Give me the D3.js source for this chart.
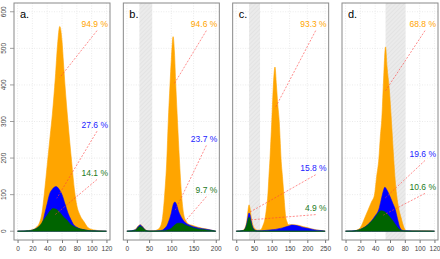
<!DOCTYPE html>
<html>
<head>
<meta charset="utf-8">
<script src="https://cdn.jsdelivr.net/npm/d3@7"></script>
<style>
  body { margin: 0; background: #fff; }
  svg { display: block; font-family: "Liberation Sans", Arial, sans-serif; }
</style>
</head>
<body>
<div id="chart"></div>
<script>
// panel names and percentage labels
var panelNames = ["a.", "b.", "c.", "d."];
var pctOrange = ["94.9 %", "94.6 %", "93.3 %", "68.8 %"];
var pctBlue = ["27.6 %", "23.7 %", "15.8 %", "19.6 %"];
var pctGreen = ["14.1 %", "9.7 %", "4.9 %", "10.6 %"];

// where each label sits (y in data units) and what its dashed line points at
var labelYOrange = [558, 558, 558, 558];
var labelYBlue = [283, 244, 164, 203];
var labelYGreen = [151, 104, 55, 113];
var targetOrange = [[57, 420], [107, 404], [109, 336], [53, 381]];
var targetBlue = [[53, 90], [109, 58], [38, 52], [53, 90]];
var targetGreen = [[50, 44], [128, 23], [38, 31], [51, 44]];

// shaded bands
var bands = [null, [28, 57], [36, 67], [54, 81]];

// axis ticks
var xTicks = [
    [0, 20, 40, 60, 80, 100, 120],
    [0, 50, 100, 150, 200],
    [0, 50, 100, 150, 200, 250],
    [0, 20, 40, 60, 80, 100, 120]
];
var yTicks = [0, 100, 200, 300, 400, 500, 600];

// panel a
var xA = [0, 10, 15, 20, 25, 30, 33, 36, 40, 44, 47, 51, 54, 57, 60, 62, 64, 68, 73, 77, 80, 84, 90, 95, 100, 105, 110, 115, 120];
var orangeA = [0, 0.5, 2, 4, 10, 25, 50, 100, 180, 260, 320, 420, 510, 560, 520, 460, 400, 300, 190, 110, 70, 45, 25, 10, 5, 3, 1, 0.5, 0];
var xA2 = [0, 15, 20, 25, 30, 33, 37, 40, 43, 47, 52, 56, 60, 64, 68, 72, 75, 80, 85, 90, 95, 100, 110, 120];
var blueA = [0, 1, 3, 7, 14, 20, 50, 75, 100, 115, 122, 115, 100, 75, 50, 32, 20, 11, 6, 4, 2, 1, 0.5, 0];
var xA3 = [0, 10, 15, 20, 25, 30, 35, 40, 44, 48, 52, 56, 60, 64, 67, 70, 75, 80, 85, 90, 95, 100, 107, 120];
var greenA = [0, 0.5, 1, 3, 7, 15, 30, 44, 56, 62, 60, 54, 44, 35, 30, 22, 14, 9, 6, 4, 2, 1, 0.5, 0];

// panel b
var xB = [0, 10, 20, 25, 30, 35, 40, 45, 50, 60, 70, 75, 80, 85, 90, 93, 97, 100, 104, 107, 110, 114, 118, 123, 128, 133, 138, 145, 150, 160, 170, 180, 190, 200];
var orangeB = [0, 0.5, 6, 14, 18, 14, 6, 2, 1, 1, 5, 12, 35, 100, 200, 297, 400, 470, 532, 490, 400, 297, 200, 100, 45, 28, 20, 17, 15, 11, 8, 6, 3, 0];
var xB2 = [0, 20, 25, 30, 35, 40, 45, 50, 60, 70, 80, 85, 90, 95, 100, 104, 108, 112, 116, 120, 125, 130, 135, 140, 150, 160, 170, 180, 190, 200];
var blueB = [0, 4, 12, 17, 12, 5, 1, 0.5, 0.5, 1, 3, 8, 15, 30, 50, 72, 80, 72, 55, 44, 33, 25, 20, 17, 12, 9, 7, 5, 3, 0];
var xB3 = [0, 20, 25, 30, 35, 40, 45, 50, 70, 80, 90, 100, 105, 110, 115, 120, 125, 130, 140, 150, 160, 170, 180, 190, 200];
var greenB = [0, 3, 10, 13, 10, 4, 1, 0.3, 0.5, 1, 3, 8, 14, 19, 22, 22, 21, 18, 13, 9, 6, 5, 3, 2, 0];

// panel c
var xC = [0, 10, 20, 25, 30, 33, 36, 39, 42, 46, 50, 55, 60, 65, 70, 75, 80, 82, 86, 89, 92, 95, 98, 100, 104, 109, 113, 117, 121, 124, 126, 130, 134, 137, 139, 143, 146, 150, 160, 170, 180, 190, 200, 210, 220, 230, 240, 250];
var orangeC = [0, 0.5, 3, 10, 30, 55, 72, 62, 40, 20, 10, 5, 3, 3, 5, 15, 30, 40, 70, 99, 150, 199, 260, 299, 390, 449, 400, 345, 299, 240, 199, 150, 99, 60, 40, 25, 18, 18, 18, 17, 15, 12, 10, 7, 5, 3, 2, 0];
var xC2 = [0, 20, 25, 30, 33, 36, 39, 42, 46, 50, 55, 60, 70, 80, 90, 100, 110, 120, 130, 140, 150, 156, 165, 175, 185, 195, 205, 215, 225, 235, 250];
var blueC = [0, 2, 7, 22, 38, 50, 44, 28, 12, 5, 2, 1, 1, 2, 3, 4, 5, 7, 9, 12, 15, 17, 16, 14, 11, 9, 7, 5, 3, 2, 0];
var xC3 = [0, 20, 25, 30, 33, 36, 39, 42, 46, 50, 55, 60, 80, 250];
var greenC = [0, 2, 6, 18, 30, 38, 34, 22, 9, 4, 1, 0.5, 0.3, 0];

// panel d
var xD = [0, 10, 15, 20, 26, 30, 35, 39, 42, 45, 47, 49, 51, 54, 56, 59, 62, 65, 67, 69, 72, 75, 78, 80, 82, 85, 90, 100, 110, 120];
var orangeD = [0, 0.5, 3, 10, 37, 56, 80, 99, 150, 199, 260, 310, 400, 504, 450, 390, 299, 199, 140, 99, 60, 37, 15, 5, 2, 1, 1, 1, 1, 0];
var xD2 = [0, 15, 20, 25, 30, 35, 40, 45, 48, 51, 53, 56, 60, 64, 67, 70, 73, 76, 80, 90, 120];
var blueD = [0, 2, 5, 10, 18, 28, 42, 60, 85, 110, 120, 112, 95, 75, 60, 35, 12, 3, 1, 0.5, 0];
var xD3 = [0, 10, 15, 20, 25, 30, 35, 40, 44, 48, 52, 56, 60, 64, 68, 71, 74, 78, 85, 120];
var greenD = [0, 0.5, 2, 5, 10, 17, 27, 38, 50, 56, 54, 48, 38, 28, 16, 8, 3, 1, 0.5, 0];

var panelSeries = [
    [[xA, orangeA], [xA2, blueA], [xA3, greenA]],
    [[xB, orangeB], [xB2, blueB], [xB3, greenB]],
    [[xC, orangeC], [xC2, blueC], [xC3, greenC]],
    [[xD, orangeD], [xD2, blueD], [xD3, greenD]]
];
var seriesColors = ["#ffa500", "#0000ff", "#006400"];
var textColors = ["#ffa500", "#2222ff", "#1d7a1d"];

var svgWidth = 440, svgHeight = 259;
var plotLeft = 14, plotRight = 438, plotTop = 3, plotBottom = 240;
var panelW = 96;
var gap = (plotRight - plotLeft - 4 * panelW) / 3;

var svg = d3.select("#chart").append("svg")
    .attr("width", svgWidth)
    .attr("height", svgHeight);

var defs = svg.append("defs");
var pat = defs.append("pattern")
    .attr("id", "hatch")
    .attr("patternUnits", "userSpaceOnUse")
    .attr("width", 3).attr("height", 3)
    .attr("patternTransform", "rotate(45)");
pat.append("rect").attr("width", 3).attr("height", 3).attr("fill", "#ebebeb");
pat.append("line").attr("x1", 0).attr("y1", 0).attr("x2", 0).attr("y2", 3)
    .attr("stroke", "#dcdcdc").attr("stroke-width", 1);

// shared y scale, 4% padding like R
var yPad = 0.04 * 600;
var yScale = d3.scaleLinear().domain([-yPad, 600 + yPad]).range([plotBottom, plotTop]);

// y tick labels on the left
svg.append("g").selectAll("text")
    .data(yTicks)
    .enter()
    .append("text")
    .attr("transform", d => `translate(6, ${yScale(d)}) rotate(-90)`)
    .attr("text-anchor", "middle")
    .attr("font-size", 6.5)
    .attr("fill", "#444")
    .text(d => d);
svg.append("g").selectAll("line")
    .data(yTicks)
    .enter()
    .append("line")
    .attr("x1", 10).attr("x2", plotLeft)
    .attr("y1", d => yScale(d)).attr("y2", d => yScale(d))
    .attr("stroke", "#777").attr("stroke-width", 0.7);

panelNames.forEach(function(name, i) {
    var x0 = plotLeft + i * (panelW + gap);
    var ticks = xTicks[i];
    var lo = ticks[0], hi = ticks[ticks.length - 1];
    var pad = 0.04 * (hi - lo);
    var xScale = d3.scaleLinear().domain([lo - pad, hi + pad]).range([x0, x0 + panelW]);

    var g = svg.append("g");

    defs.append("clipPath").attr("id", "clip" + i)
        .append("rect")
        .attr("x", x0).attr("y", plotTop)
        .attr("width", panelW).attr("height", plotBottom - plotTop);

    // grid
    g.append("g").selectAll("line")
        .data(ticks)
        .enter()
        .append("line")
        .attr("x1", d => xScale(d)).attr("x2", d => xScale(d))
        .attr("y1", plotTop).attr("y2", plotBottom)
        .attr("stroke", "#dedede").attr("stroke-width", 0.6)
        .attr("stroke-dasharray", "1,1.5");
    g.append("g").selectAll("line")
        .data(yTicks)
        .enter()
        .append("line")
        .attr("x1", x0).attr("x2", x0 + panelW)
        .attr("y1", d => yScale(d)).attr("y2", d => yScale(d))
        .attr("stroke", "#dedede").attr("stroke-width", 0.6)
        .attr("stroke-dasharray", "1,1.5");

    // shaded band
    if (bands[i]) {
        g.append("rect")
            .attr("x", xScale(bands[i][0]))
            .attr("width", xScale(bands[i][1]) - xScale(bands[i][0]))
            .attr("y", plotTop).attr("height", plotBottom - plotTop)
            .attr("fill", "url(#hatch)");
    }

    // density areas
    var area = d3.area()
        .x(d => xScale(d[0]))
        .y0(yScale(0))
        .y1(d => yScale(d[1]))
        .curve(d3.curveMonotoneX);
    var ag = g.append("g").attr("clip-path", `url(#clip${i})`);
    panelSeries[i].forEach(function(s, k) {
        var pts = s[0].map((xv, j) => [xv, s[1][j]]);
        ag.append("path")
            .attr("d", area(pts))
            .attr("fill", seriesColors[k])
            .attr("stroke", seriesColors[k])
            .attr("stroke-width", 0.6);
    });

    // labels and dashed pointers
    var labY = [labelYOrange[i], labelYBlue[i], labelYGreen[i]];
    var labT = [pctOrange[i], pctBlue[i], pctGreen[i]];
    var targ = [targetOrange[i], targetBlue[i], targetGreen[i]];
    var tx = x0 + panelW - 2;
    labT.forEach(function(t, k) {
        g.append("line")
            .attr("x1", tx - 11).attr("y1", yScale(labY[k]) + 3.5)
            .attr("x2", xScale(targ[k][0])).attr("y2", yScale(targ[k][1]))
            .attr("stroke", "#ff4040").attr("stroke-width", 0.8)
            .attr("stroke-opacity", 0.75)
            .attr("stroke-dasharray", "2,1.5");
        g.append("text")
            .attr("x", tx).attr("y", yScale(labY[k]))
            .attr("text-anchor", "end")
            .attr("font-size", 8.5)
            .attr("fill", textColors[k])
            .text(t);
    });

    // panel letter
    g.append("text")
        .attr("x", x0 + 6).attr("y", 18)
        .attr("font-size", 11)
        .attr("fill", "#000")
        .text(name);

    // frame
    g.append("rect")
        .attr("x", x0).attr("y", plotTop)
        .attr("width", panelW).attr("height", plotBottom - plotTop)
        .attr("fill", "none")
        .attr("stroke", "#8a8a8a").attr("stroke-width", 1);

    // x axis
    var xAxis = d3.axisBottom(xScale).tickValues(ticks).tickSize(3).tickSizeOuter(0);
    var axg = g.append("g")
        .attr("transform", `translate(0, ${plotBottom})`)
        .call(xAxis);
    axg.select(".domain").remove();
    axg.selectAll("line").attr("stroke", "#777");
    axg.selectAll("text")
        .attr("font-size", 6.5)
        .attr("fill", "#444")
        .attr("y", 6)
        .style("font-family", "Liberation Sans, Arial, sans-serif");
});
</script>
</body>
</html>
